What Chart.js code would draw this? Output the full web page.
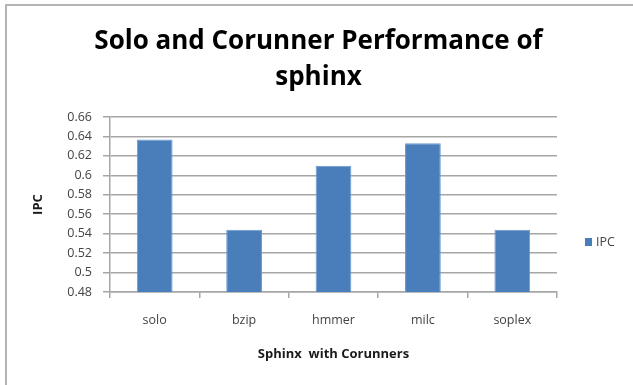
<!DOCTYPE html>
<html>
<head>
<meta charset="utf-8">
<script src="https://cdn.jsdelivr.net/npm/chart.js@4.4.1/dist/chart.umd.min.js"></script>
<style>
  html, body { margin: 0; padding: 0; background: #ffffff; }
  #wrap { position: relative; width: 633px; height: 385px; overflow: hidden; }
  #frame { position: absolute; left: 5px; top: 4px; width: 700px; height: 500px;
           border-left: 2px solid #b4b4b4; border-top: 2px solid #b4b4b4; pointer-events: none; }
  canvas { position: absolute; left: 0; top: 0; }
</style>
</head>
<body>
<div id="wrap">
  <canvas id="chart" width="633" height="385"></canvas>
  <div id="frame"></div>
</div>
<script>
// Categories: sphinx alone and paired with each co-runner
const categories = ['solo', 'bzip', 'hmmer', 'milc', 'soplex'];
// IPC of sphinx in each run
const ipcValues = [0.637, 0.544, 0.610, 0.633, 0.544];
const seriesName = 'IPC';
// Value axis ticks
const yTicks = [0.48, 0.50, 0.52, 0.54, 0.56, 0.58, 0.60, 0.62, 0.64, 0.66];
const titleLines = ['Solo and Corunner Performance of', 'sphinx'];
const xTitle = 'Sphinx  with Corunners';
const yTitle = 'IPC';

const FONT = "'Open Sans', Lato, 'Liberation Sans', sans-serif";
const gridColor = '#a6a6a6';
const tickColor = '#444444';
const barColor = '#4a7ebb';

// Legend drawn to the right of the plot, like an office-style chart
const sideLegend = {
  id: 'sideLegend',
  afterDraw(chart) {
    const ctx = chart.ctx;
    const ds = chart.data.datasets[0];
    const x = chart.chartArea.right + 28;
    const y = 242;
    ctx.save();
    ctx.fillStyle = ds.backgroundColor;
    ctx.fillRect(x, y - 4, 7, 8);
    ctx.fillStyle = tickColor;
    ctx.font = '12.5px ' + FONT;
    ctx.textBaseline = 'middle';
    ctx.textAlign = 'left';
    ctx.fillText(ds.label, x + 11, y);
    ctx.restore();
  }
};

new Chart(document.getElementById('chart'), {
  type: 'bar',
  data: {
    labels: categories,
    datasets: [{
      label: seriesName,
      data: ipcValues,
      backgroundColor: barColor,
      borderColor: '#6a98d2',
      borderWidth: 1,
      barPercentage: 0.4,
      categoryPercentage: 1.0
    }]
  },
  options: {
    responsive: false,
    animation: false,
    devicePixelRatio: 1,
    layout: { padding: { left: 4, right: 0, top: 0, bottom: 0 } },
    plugins: {
      legend: { display: false },
      tooltip: { enabled: false },
      title: {
        display: true,
        text: titleLines,
        color: '#000000',
        font: { family: FONT, size: 26, weight: 'bold', lineHeight: 1.385 },
        padding: { top: 24, bottom: 21 }
      }
    },
    scales: {
      x: {
        offset: true,
        grid: {
          offset: true,
          drawOnChartArea: false,
          drawTicks: true,
          tickLength: 6,
          lineWidth: 1.5,
          color: gridColor
        },
        border: { display: true, color: gridColor, width: 1.5 },
        ticks: { color: tickColor, font: { family: FONT, size: 12.5 }, padding: 15, maxRotation: 0 },
        title: {
          display: true,
          text: xTitle,
          color: '#1a1a1a',
          font: { family: FONT, size: 13, weight: 'bold' },
          padding: { top: 0, bottom: 23 }
        },
        afterFit(scale) { scale.height = 93; }
      },
      y: {
        min: 0.48,
        max: 0.66,
        afterBuildTicks(scale) { scale.ticks = yTicks.map(v => ({ value: v })); },
        grid: { color: gridColor, lineWidth: 1.5, tickLength: 7, drawTicks: true },
        border: { display: true, color: gridColor, width: 1.5 },
        ticks: {
          color: tickColor,
          font: { family: FONT, size: 12.5 },
          padding: 11,
          callback: (v) => String(Number(Number(v).toFixed(2)))
        },
        title: {
          display: true,
          text: yTitle,
          color: '#1a1a1a',
          font: { family: FONT, size: 13, weight: 'bold' },
          padding: { top: 26, bottom: 0 }
        },
        afterFit(scale) { scale.width = 106; }
      },
      // Empty right-hand strip that holds the legend
      side: {
        type: 'linear',
        position: 'right',
        display: true,
        grid: { display: false },
        border: { display: false },
        ticks: { display: false },
        afterFit(scale) { scale.width = 76; }
      }
    }
  },
  plugins: [sideLegend]
});
</script>
</body>
</html>
